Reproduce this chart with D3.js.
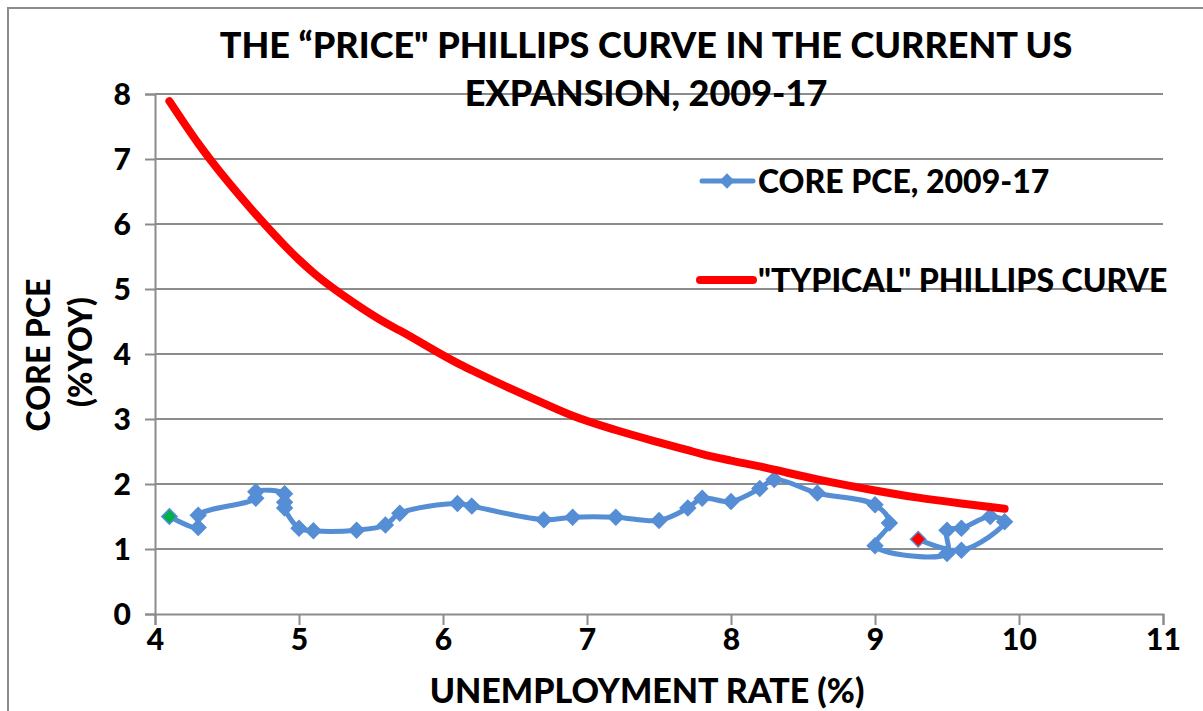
<!DOCTYPE html>
<html>
<head>
<meta charset="utf-8">
<script src="https://cdn.jsdelivr.net/npm/d3@7"></script>
<style>
  body { margin: 0; background: #fff; }
  svg text { font-family: Lato, "Open Sans", sans-serif; font-weight: 900; fill: #000; }
</style>
</head>
<body>
<svg id="chart" width="1203" height="711"></svg>
<script>
// core PCE path, 2009-17 (unemployment %, core PCE %yoy), in time order
const unemp = [9.3, 9.6, 9.9, 9.8, 9.6, 9.5, 9.5, 9.0, 9.1, 9.0, 8.6, 8.3, 8.2, 8.0, 7.8, 7.7, 7.5, 7.2, 6.9, 6.7,
  6.2, 6.1, 5.7, 5.6, 5.4, 5.1, 5.0, 4.9, 4.9, 4.9, 4.7, 4.7, 4.3, 4.3, 4.1];
const corePce = [1.15, 0.98, 1.42, 1.50, 1.32, 1.29, 0.93, 1.05, 1.40, 1.68, 1.86, 2.07, 1.93, 1.73, 1.78, 1.63, 1.44, 1.49, 1.49, 1.45,
  1.66, 1.70, 1.55, 1.37, 1.29, 1.28, 1.32, 1.63, 1.72, 1.85, 1.88, 1.78, 1.52, 1.33, 1.50];

// "typical" curve
const typU = [4.1, 4.3, 4.7, 4.9, 5.0, 5.1, 5.4, 5.6, 5.7, 6.1, 6.2, 6.7, 6.9, 7.2, 7.5, 7.7, 7.8, 8.0, 8.2, 8.3, 8.6, 9.0, 9.3, 9.6, 9.9];
const typPce = [7.89, 7.24, 6.15, 5.67, 5.45, 5.25, 4.76, 4.48, 4.36, 3.86, 3.75, 3.24, 3.05, 2.83, 2.64, 2.52, 2.46, 2.36, 2.27, 2.22, 2.07, 1.90, 1.79, 1.70, 1.62];

const xTicks = [4, 5, 6, 7, 8, 9, 10, 11];
const yTicks = [0, 1, 2, 3, 4, 5, 6, 7, 8];
const seriesNames = ["CORE PCE, 2009-17", "\"TYPICAL\" PHILLIPS CURVE"];
const titleLines = ["THE \u201cPRICE\" PHILLIPS CURVE IN THE CURRENT US", "EXPANSION, 2009-17"];

const blue = "#558ed5";
const red = "#ff0000";
const grid = "#8c8c8c";

const svg = d3.select("#chart");

const x = d3.scaleLinear().domain([4, 11]).range([155, 1163]);
const y = d3.scaleLinear().domain([0, 8]).range([614, 94]);

// cut-off caption above the frame
svg.append("text")
  .attr("x", 0).attr("y", -3)
  .style("font-size", "20px")
  .style("font-weight", "400")
  .text("Figure 4: Core PCE and unemployment, 2009-17");

// frame
svg.append("rect")
  .attr("x", 8).attr("y", 8)
  .attr("width", 1210).attr("height", 720)
  .attr("fill", "none")
  .attr("stroke", grid)
  .attr("stroke-width", 2);

// gridlines
svg.append("g")
  .selectAll("line")
  .data(yTicks.filter(d => d > 0))
  .join("line")
  .attr("x1", x(4)).attr("x2", x(11))
  .attr("y1", d => y(d)).attr("y2", d => y(d))
  .attr("stroke", grid)
  .attr("stroke-width", 2);

// axes
const xAxis = svg.append("g")
  .attr("transform", `translate(0,${y(0)})`)
  .call(d3.axisBottom(x).tickValues(xTicks).tickSize(11).tickPadding(4).tickFormat(d3.format("d")));
const yAxis = svg.append("g")
  .attr("transform", `translate(${x(4)},0)`)
  .call(d3.axisLeft(y).tickValues(yTicks).tickSize(10).tickPadding(14).tickFormat(d3.format("d")));

[xAxis, yAxis].forEach(a => {
  a.select(".domain").attr("stroke", grid).attr("stroke-width", 2);
  a.selectAll(".tick line").attr("stroke", grid).attr("stroke-width", 2);
  a.selectAll(".tick text")
    .style("font-family", "Lato, sans-serif")
    .style("font-weight", "900")
    .style("font-size", "30px")
    .attr("fill", "#000");
});
yAxis.selectAll(".tick text").attr("dy", "0.36em");

// core pce series
const pts = unemp.map((u, i) => ({ u, p: corePce[i], i }));

svg.append("path")
  .datum(pts)
  .attr("fill", "none")
  .attr("stroke", blue)
  .attr("stroke-width", 5)
  .attr("stroke-linejoin", "round")
  .attr("stroke-linecap", "round")
  .attr("d", d3.line().x(d => x(d.u)).y(d => y(d.p)).curve(d3.curveCatmullRom.alpha(0.5)));

const diamond = d3.symbol().type(d3.symbolDiamond2).size(150);

svg.append("g")
  .selectAll("path")
  .data(pts)
  .join("path")
  .attr("transform", d => `translate(${x(d.u)},${y(d.p)})`)
  .attr("d", diamond)
  .attr("fill", d => d.i === 0 ? red : d.i === pts.length - 1 ? "#00b050" : blue)
  .attr("stroke", blue)
  .attr("stroke-width", 1.5);

// typical curve
const typ = typU.map((u, i) => ({ u, p: typPce[i] }));
svg.append("path")
  .datum(typ)
  .attr("fill", "none")
  .attr("stroke", red)
  .attr("stroke-width", 8)
  .attr("stroke-linejoin", "round")
  .attr("stroke-linecap", "round")
  .attr("d", d3.line().x(d => x(d.u)).y(d => y(d.p)).curve(d3.curveMonotoneX));

// title
svg.append("text")
  .attr("x", 646).attr("y", 58)
  .attr("text-anchor", "middle")
  .style("font-size", "36px")
  .text(titleLines[0]);
svg.append("text")
  .attr("x", 646).attr("y", 106)
  .attr("text-anchor", "middle")
  .style("font-size", "36px")
  .text(titleLines[1]);

// legend
const legend = svg.append("g");
legend.append("line")
  .attr("x1", 702).attr("x2", 753).attr("y1", 181).attr("y2", 181)
  .attr("stroke", blue).attr("stroke-width", 5).attr("stroke-linecap", "round");
legend.append("path")
  .attr("transform", "translate(727,181)")
  .attr("d", diamond)
  .attr("fill", blue);
legend.append("text")
  .attr("x", 758).attr("y", 193)
  .style("font-size", "32px")
  .text(seriesNames[0]);
legend.append("line")
  .attr("x1", 700).attr("x2", 753).attr("y1", 280).attr("y2", 280)
  .attr("stroke", red).attr("stroke-width", 8).attr("stroke-linecap", "round");
legend.append("text")
  .attr("x", 758).attr("y", 292)
  .style("font-size", "32px")
  .text(seriesNames[1]);

// axis titles
svg.append("text")
  .attr("x", 647).attr("y", 703)
  .attr("text-anchor", "middle")
  .style("font-size", "34px")
  .text("UNEMPLOYMENT RATE (%)");

svg.append("text")
  .attr("transform", "translate(50,355) rotate(-90)")
  .attr("text-anchor", "middle")
  .style("font-size", "32px")
  .text("CORE PCE");
svg.append("text")
  .attr("transform", "translate(92,352) rotate(-90)")
  .attr("text-anchor", "middle")
  .style("font-size", "32px")
  .text("(%YOY)");
</script>
</body>
</html>
